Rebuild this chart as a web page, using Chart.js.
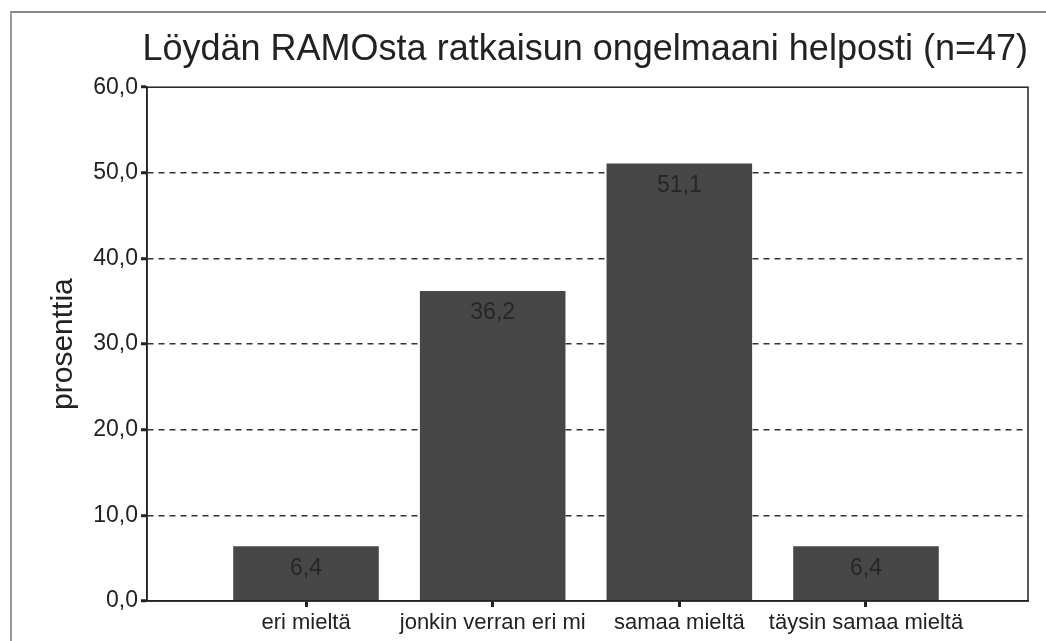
<!DOCTYPE html>
<html>
<head>
<meta charset="utf-8">
<script src="https://cdn.jsdelivr.net/npm/chart.js@4.4.1/dist/chart.umd.min.js"></script>
<style>
    body { margin: 0; background: #fff; }
    #wrap { position: relative; width: 1046px; height: 641px; }
    #frame { position: absolute; left: 10px; top: 11px; right: 0; bottom: 0;
             border-top: 2px solid #8a8a8a; border-left: 2px solid #9a9a9a; }
    #chart { position: absolute; left: 0; top: 0; }
</style>
</head>
<body>
<div id="wrap">
    <div id="frame"></div>
    <canvas id="chart" width="1046" height="641"></canvas>
</div>
<script>
// data
const categories = ['eri mieltä', 'jonkin verran eri mi', 'samaa mieltä', 'täysin samaa mieltä'];
const percents = [6.4, 36.2, 51.1, 6.4];
const yTicks = [0, 10, 20, 30, 40, 50, 60];

const FONT = '"Liberation Sans", Arial, sans-serif';
const fmt = v => v.toFixed(1).replace('.', ',');

// frame round the plot area
const plotFrame = {
    id: 'plotFrame',
    afterDraw(chart) {
        const a = chart.chartArea;
        const ctx = chart.ctx;
        ctx.save();
        ctx.strokeStyle = '#222';
        ctx.lineWidth = 1.5;
        ctx.strokeRect(a.left, a.top, a.right - a.left, a.bottom - a.top);
        ctx.restore();
    }
};

// value labels just inside the bar tops
const barLabels = {
    id: 'barLabels',
    afterDatasetsDraw(chart) {
        const ctx = chart.ctx;
        const meta = chart.getDatasetMeta(0);
        ctx.save();
        ctx.font = '23px ' + FONT;
        ctx.fillStyle = '#262626';
        ctx.textAlign = 'center';
        ctx.textBaseline = 'middle';
        meta.data.forEach((bar, i) => {
            ctx.fillText(fmt(percents[i]), bar.x, bar.y + 22);
        });
        ctx.restore();
    }
};

new Chart(document.getElementById('chart'), {
    type: 'bar',
    data: {
        datasets: [{
            data: categories.map((c, i) => ({ x: i, y: percents[i] })),
            backgroundColor: '#474747',
            borderWidth: 0,
            barPercentage: 0.78,
            categoryPercentage: 1
        }]
    },
    options: {
        responsive: false,
        animation: false,
        layout: { padding: { top: 14, left: 0, right: 18, bottom: 0 } },
        plugins: {
            legend: { display: false },
            tooltip: { enabled: false },
            title: {
                display: true,
                text: 'Löydän RAMOsta ratkaisun ongelmaani helposti (n=47)',
                align: 'end',
                color: '#222',
                font: { family: FONT, size: 36, weight: 'normal', lineHeight: 1.2 },
                padding: { top: 14, bottom: 16 }
            }
        },
        scales: {
            x: {
                type: 'linear',
                offset: false,
                min: -0.852,
                max: 3.868,
                afterBuildTicks(scale) {
                    scale.ticks = categories.map((c, i) => ({ value: i }));
                },
                afterFit(scale) { scale.height = 40; },
                ticks: {
                    callback: v => categories[v] ?? '',
                    color: '#222',
                    font: { family: FONT, size: 22 },
                    padding: 3,
                    maxRotation: 0,
                    autoSkip: false
                },
                grid: {
                    offset: false,
                    drawOnChartArea: false,
                    tickLength: 6,
                    tickWidth: 3,
                    tickColor: '#222'
                },
                border: { display: true, color: '#222', width: 1.5 }
            },
            y: {
                min: 0,
                max: 60,
                afterBuildTicks(scale) {
                    scale.ticks = yTicks.map(v => ({ value: v }));
                },
                afterFit(scale) { scale.width = 147; },
                ticks: {
                    callback: v => fmt(v),
                    color: '#222',
                    font: { family: FONT, size: 23 },
                    padding: 3
                },
                grid: {
                    color: c => (c.tick && (c.tick.value === 0 || c.tick.value === 60)) ? 'rgba(0,0,0,0)' : '#333',
                    lineWidth: 1.5,
                    tickLength: 6,
                    tickWidth: 3,
                    tickColor: '#222'
                },
                border: { display: true, color: '#222', width: 1.5, dash: [6, 5] },
                title: {
                    display: true,
                    text: 'prosenttia',
                    color: '#222',
                    font: { family: FONT, size: 30, lineHeight: 1.2 },
                    padding: { top: 46, bottom: 0 }
                }
            }
        }
    },
    plugins: [plotFrame, barLabels]
});
</script>
</body>
</html>
